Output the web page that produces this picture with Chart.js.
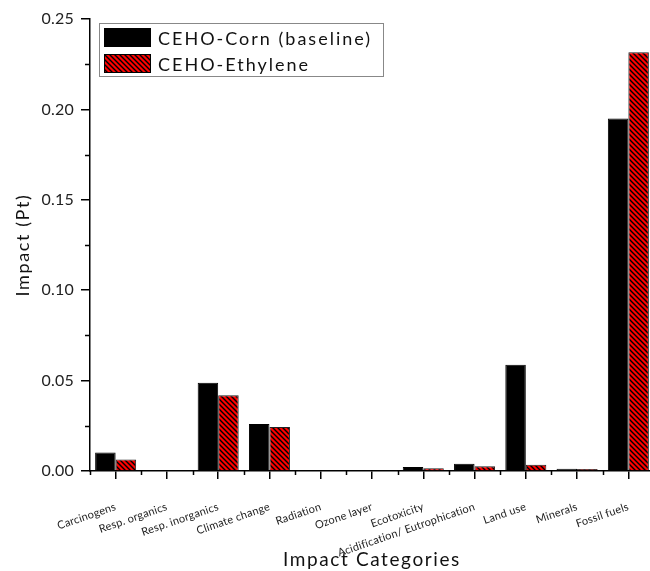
<!DOCTYPE html>
<html>
<head>
<meta charset="utf-8">
<script src="https://cdn.jsdelivr.net/npm/chart.js@4"></script>
<style>
html, body { margin: 0; padding: 0; background: #fff; overflow: hidden; }
#wrap { position: relative; width: 654px; height: 571px; }
</style>
</head>
<body>
<div id="wrap"><canvas id="grafico"></canvas></div>
<script>
// =============== DADOS ===============
const categories = ['Carcinogens', 'Resp. organics', 'Resp. inorganics', 'Climate change', 'Radiation',
    'Ozone layer', 'Ecotoxicity', 'Acidification/ Eutrophication', 'Land use', 'Minerals', 'Fossil fuels'];
const cornValues = [0.0103, 0, 0.0488, 0.0260, 0, 0, 0.0022, 0.0040, 0.0588, 0.0013, 0.1950];
const ethyleneValues = [0.0063, 0, 0.0419, 0.0244, 0, 0, 0.0015, 0.0026, 0.0035, 0.0011, 0.2316];
const seriesNames = ['CEHO-Corn (baseline)', 'CEHO-Ethylene'];
const yMax = 0.25;
const yStep = 0.05;
const yMinorStep = 0.025;

const FONT = 'Lato';

// hachura vermelha com linhas pretas
function makeHatch() {
    const s = 5;
    const c = document.createElement('canvas');
    c.width = s; c.height = s;
    const g = c.getContext('2d');
    g.fillStyle = '#ff0000';
    g.fillRect(0, 0, s, s);
    g.strokeStyle = '#000';
    g.lineWidth = 1.4;
    g.beginPath();
    g.moveTo(-1, -1); g.lineTo(s + 1, s + 1);
    g.moveTo(-1, s - 1); g.lineTo(1, s + 1);
    g.moveTo(s - 1, -1); g.lineTo(s + 1, 1);
    g.stroke();
    return g.createPattern(c, 'repeat');
}
const hatch = makeHatch();

// espaçamento de letras (não é opção do Chart.js)
const spacingPlugin = {
    id: 'spacing',
    beforeUpdate(chart) { chart.ctx.letterSpacing = '0.2px'; },
    beforeDraw(chart) { chart.ctx.letterSpacing = '0.2px'; },
    afterLayout(chart) {
        Object.values(chart.scales).forEach(scale => {
            if (scale._spaced) return;
            const orig = scale.drawTitle;
            scale.drawTitle = function () {
                const c = this.ctx;
                const prev = c.letterSpacing;
                c.letterSpacing = '1.6px';
                orig.apply(this, arguments);
                c.letterSpacing = prev;
            };
            scale._spaced = true;
        });
    }
};

// ticks menores dos eixos
const minorTicks = {
    id: 'minorTicks',
    afterDraw(chart) {
        const ctx = chart.ctx;
        const x = chart.scales.x, y = chart.scales.y;
        const area = chart.chartArea;
        ctx.save();
        ctx.strokeStyle = '#000';
        ctx.lineWidth = 1.5;
        ctx.beginPath();
        for (let v = yMinorStep; v < yMax; v += yStep) {
            const py = Math.round(y.getPixelForValue(v)) + 0.5;
            ctx.moveTo(area.left - 5, py);
            ctx.lineTo(area.left, py);
        }
        for (let i = 0; i <= categories.length; i++) {
            const px = Math.round(x.getPixelForValue(i - 0.5)) + 0.5;
            ctx.moveTo(px, area.bottom);
            ctx.lineTo(px, area.bottom + 4);
        }
        ctx.stroke();
        ctx.restore();
    }
};

// legenda com moldura dentro da área do gráfico
const boxLegend = {
    id: 'boxLegend',
    afterDraw(chart) {
        const ctx = chart.ctx;
        const ds = chart.data.datasets;
        ctx.save();
        ctx.strokeStyle = '#888';
        ctx.lineWidth = 1;
        ctx.strokeRect(99.5, 23.5, 284, 53);
        ds.forEach((d, i) => {
            const top = 28 + i * 26;
            ctx.fillStyle = d.backgroundColor;
            ctx.fillRect(104, top, 47, 19);
            ctx.strokeStyle = '#000';
            ctx.strokeRect(104.5, top + 0.5, 46, 18);
            ctx.fillStyle = '#111';
            ctx.font = '18px ' + FONT;
            ctx.letterSpacing = '2px';
            ctx.textBaseline = 'middle';
            ctx.textAlign = 'left';
            ctx.fillText(d.label, 158, top + 11);
        });
        ctx.restore();
    }
};

const ctx = document.getElementById('grafico').getContext('2d');
const chart = new Chart(ctx, {
    type: 'bar',
    data: {
        labels: categories,
        datasets: [
            { label: seriesNames[0], data: cornValues, backgroundColor: '#000', borderColor: '#000', borderWidth: 1 },
            { label: seriesNames[1], data: ethyleneValues, backgroundColor: hatch, borderColor: '#222', borderWidth: 1 }
        ]
    },
    options: {
        responsive: true,
        maintainAspectRatio: false,
        animation: false,
        layout: { padding: { top: 19, left: 0, right: 0, bottom: 0 } },
        datasets: { bar: { categoryPercentage: 0.8, barPercentage: 1.0 } },
        plugins: {
            legend: { display: false },
            tooltip: { enabled: false }
        },
        scales: {
            x: {
                offset: true,
                grid: { display: true, offset: false, drawOnChartArea: false, color: '#000', lineWidth: 1.5, tickLength: 8 },
                border: { display: true, color: '#000', width: 1.5 },
                ticks: {
                    autoSkip: false, maxRotation: 19, minRotation: 19, padding: 21,
                    color: '#222', font: { family: FONT, size: 11 }
                },
                title: {
                    display: true, text: 'Impact Categories', color: '#111',
                    font: { family: FONT, size: 19 }, padding: { top: 0, bottom: 0 }
                },
                afterFit(scale) { scale.height = 100; }
            },
            y: {
                min: 0, max: yMax,
                grid: { display: true, drawOnChartArea: false, color: '#000', lineWidth: 1.5, tickLength: 9 },
                border: { display: true, color: '#000', width: 1.5 },
                ticks: {
                    stepSize: yStep, padding: 7, color: '#222',
                    font: { family: FONT, size: 16 },
                    callback: v => v.toFixed(2)
                },
                title: {
                    display: true, text: 'Impact (Pt)', color: '#111',
                    font: { family: FONT, size: 18 }, padding: { top: 12, bottom: 0 }
                },
                afterFit(scale) { scale.width = 90; }
            }
        }
    },
    plugins: [spacingPlugin, minorTicks, boxLegend]
});
</script>
</body>
</html>
